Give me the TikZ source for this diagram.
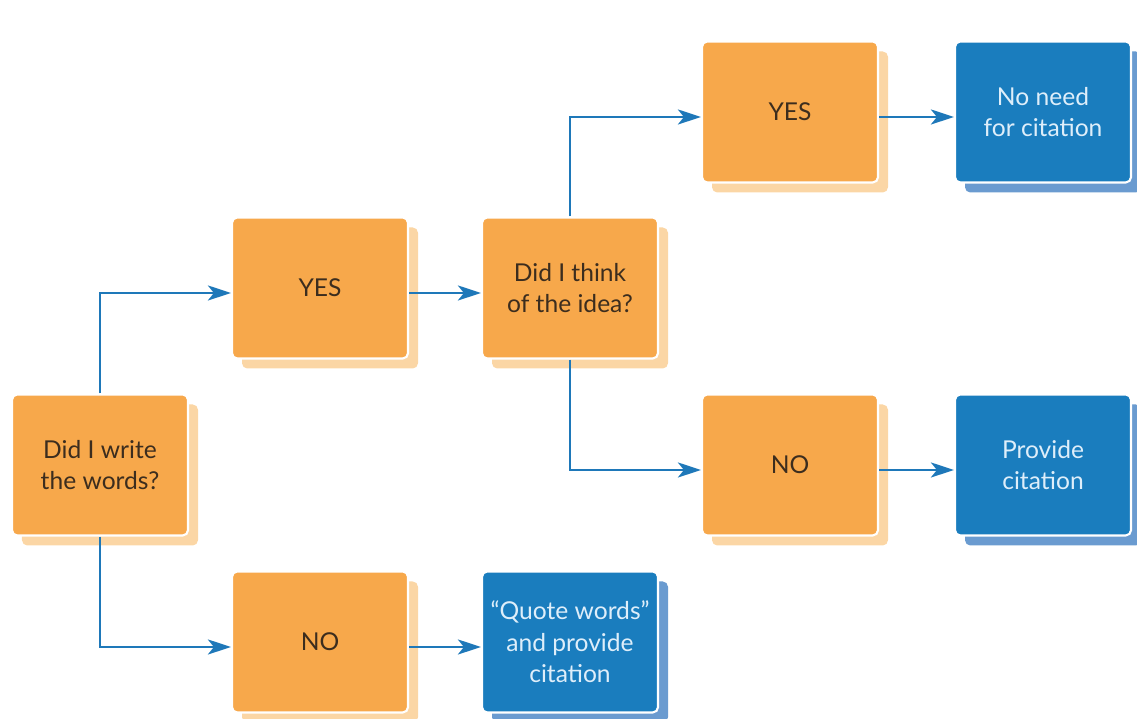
\documentclass[tikz,border=0pt]{standalone}
\usepackage{fontspec}
\setmainfont{Lato}
\usetikzlibrary{arrows.meta,shadows}

\definecolor{boxorange}{RGB}{247,168,75}
\definecolor{shadeorange}{RGB}{251,214,165}
\definecolor{boxblue}{RGB}{26,125,190}
\definecolor{shadeblue}{RGB}{106,155,208}
\definecolor{lineblue}{RGB}{30,120,185}
\definecolor{textdark}{RGB}{60,45,30}
\definecolor{textlight}{RGB}{222,238,250}

\tikzset{
  box/.style={rounded corners=3pt, draw=white, line width=1.2pt,
    minimum width=3.52cm, minimum height=2.82cm, align=center,
    font=\fontsize{14}{18}\selectfont},
  question/.style={box, fill=boxorange, text=textdark,
    general shadow={shadow xshift=0.2cm, shadow yshift=-0.2cm, fill=shadeorange}},
  answer/.style={box, fill=boxblue, text=textlight,
    general shadow={shadow xshift=0.2cm, shadow yshift=-0.2cm, fill=shadeblue}},
  flow/.style={draw=lineblue, line width=1.6pt,
    -{Stealth[length=0.46cm, width=0.3cm, inset=0.12cm]}},
  low/.style={yshift=-0.1cm}
}

\begin{document}
\begin{tikzpicture}
\useasboundingbox (0,0) rectangle (22.74,14.38);

\node[question] (write) at (2.0,5.08) {Did I write\\the words?};
\node[question] (yesw) at (6.4,8.62) {YES};
\node[question] (think) at (11.4,8.62) {Did I think\\of the idea?};
\node[question] (yesi) at (15.8,12.14) {YES};
\node[question] (noi) at (15.8,5.08) {NO};
\node[question] (now) at (6.4,1.54) {NO};

\node[answer] (noneed) at (20.86,12.14) {No need\\for citation};
\node[answer] (provide) at (20.86,5.08) {Provide\\citation};
\node[answer] (quote) at (11.4,1.54) {``Quote words''\\and provide\\citation};

% branches from the two questions
\draw[flow] (write.north) |- ([low]yesw.west);
\draw[flow] (write.south) |- ([low]now.west);
\draw[flow] (think.north) |- ([low]yesi.west);
\draw[flow] (think.south) |- ([low]noi.west);

% straight steps
\draw[flow] ([low]yesw.east) -- ([low]think.west);
\draw[flow] ([low]now.east) -- ([low]quote.west);
\draw[flow] ([low]yesi.east) -- ([low]noneed.west);
\draw[flow] ([low]noi.east) -- ([low]provide.west);
\end{tikzpicture}
\end{document}
